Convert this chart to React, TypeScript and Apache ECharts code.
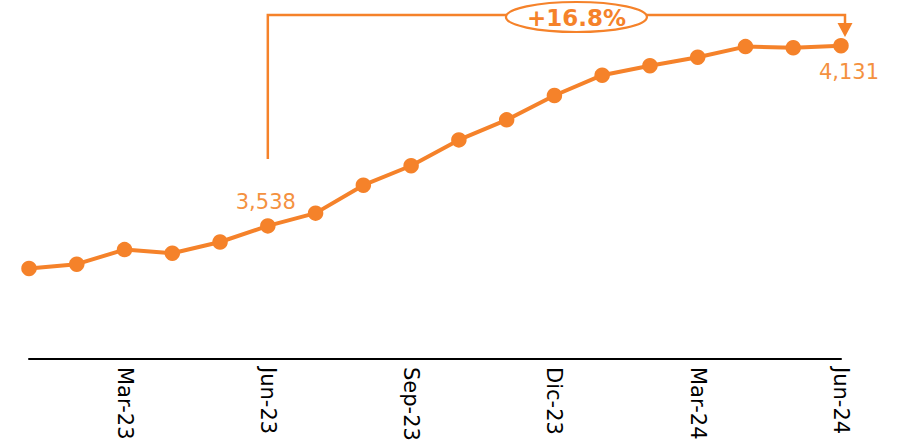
import React, { useEffect, useRef } from "react";
import * as echarts from "echarts";

const categories = [
  "Ene-23", "Feb-23", "Mar-23", "Abr-23", "May-23", "Jun-23",
  "Jul-23", "Ago-23", "Sep-23", "Oct-23", "Nov-23", "Dic-23",
  "Ene-24", "Feb-24", "Mar-24", "Abr-24", "May-24", "Jun-24",
];
const values = [
  3398, 3412, 3460, 3448, 3485, 3538,
  3580, 3672, 3736, 3821, 3887, 3967,
  4034, 4065, 4093, 4128, 4124, 4131,
];
const startIndex = 5;
const endIndex = 17;
const changeLabel = "+16.8%";

const ORANGE = "#F5822A";
const LABEL_ORANGE = "#F4913F";
const FONT = "'DejaVu Sans', Verdana, sans-serif";

export default function App() {
  const ref = useRef<HTMLDivElement>(null);
  useEffect(() => {
    if (!ref.current) return;
    const chart = echarts.init(ref.current, null, { renderer: "svg" });
    const fmt = (v: number) => v.toLocaleString("en-US");
    const data = values.map((v, i) => {
      if (i === startIndex) {
        return {
          value: v,
          label: { show: true, position: "top", distance: 6, offset: [-2, 0] },
        };
      }
      if (i === endIndex) {
        return {
          value: v,
          label: { show: true, position: "bottom", distance: 8, offset: [8, 0] },
        };
      }
      return v;
    });
    chart.setOption({
      animation: false,
      grid: { left: 29, right: 57, top: 15, bottom: 88 },
      xAxis: {
        type: "category",
        data: categories,
        boundaryGap: false,
        axisLine: { lineStyle: { color: "#000", width: 2 } },
        axisTick: { show: false },
        axisLabel: {
          rotate: -90,
          margin: 8,
          interval: (i: number) => i % 3 === 2,
          color: "#000",
          fontFamily: FONT,
          fontSize: 21,
        },
        splitLine: { show: false },
      },
      yAxis: {
        type: "value",
        min: 3100,
        max: 4232,
        show: false,
        splitLine: { show: false },
      },
      series: [
        {
          type: "line",
          data,
          symbol: "circle",
          symbolSize: 15.5,
          lineStyle: { color: ORANGE, width: 4 },
          itemStyle: { color: ORANGE },
          label: {
            show: false,
            color: LABEL_ORANGE,
            fontFamily: FONT,
            fontSize: 21,
            formatter: (p: any) => fmt(p.value),
          },
        },
      ],
    });

    const p0 = chart.convertToPixel({ gridIndex: 0 }, [startIndex, values[startIndex]]) as number[];
    const p1 = chart.convertToPixel({ gridIndex: 0 }, [endIndex, values[endIndex]]) as number[];
    const topY = 15;
    const ax = p1[0] + 4;
    const cx = (p0[0] + ax) / 2 + 20;
    const cy = topY + 2;
    chart.setOption({
      graphic: [
        {
          type: "polyline",
          shape: {
            points: [
              [p0[0], p0[1] - 67],
              [p0[0], topY],
              [ax, topY],
              [ax, topY + 10],
            ],
          },
          style: { stroke: ORANGE, lineWidth: 2.5, fill: null },
          z: 10,
        },
        {
          type: "polygon",
          shape: {
            points: [
              [ax - 7.5, topY + 8],
              [ax + 7.5, topY + 8],
              [ax, topY + 22],
            ],
          },
          style: { fill: ORANGE },
          z: 10,
        },
        {
          type: "ellipse",
          shape: { cx, cy, rx: 70.5, ry: 15 },
          style: { fill: "#fff", stroke: ORANGE, lineWidth: 2.2 },
          z: 11,
        },
        {
          type: "text",
          x: cx,
          y: cy + 1,
          style: {
            text: changeLabel,
            fill: ORANGE,
            font: `bold 23px ${FONT}`,
            textAlign: "center",
            textVerticalAlign: "middle",
          },
          z: 12,
        },
      ],
    });
    return () => chart.dispose();
  }, []);
  return (
    <div
      ref={ref}
      style={{ position: "fixed", left: 0, top: 0, width: 898, height: 447, background: "#fff" }}
    />
  );
}
